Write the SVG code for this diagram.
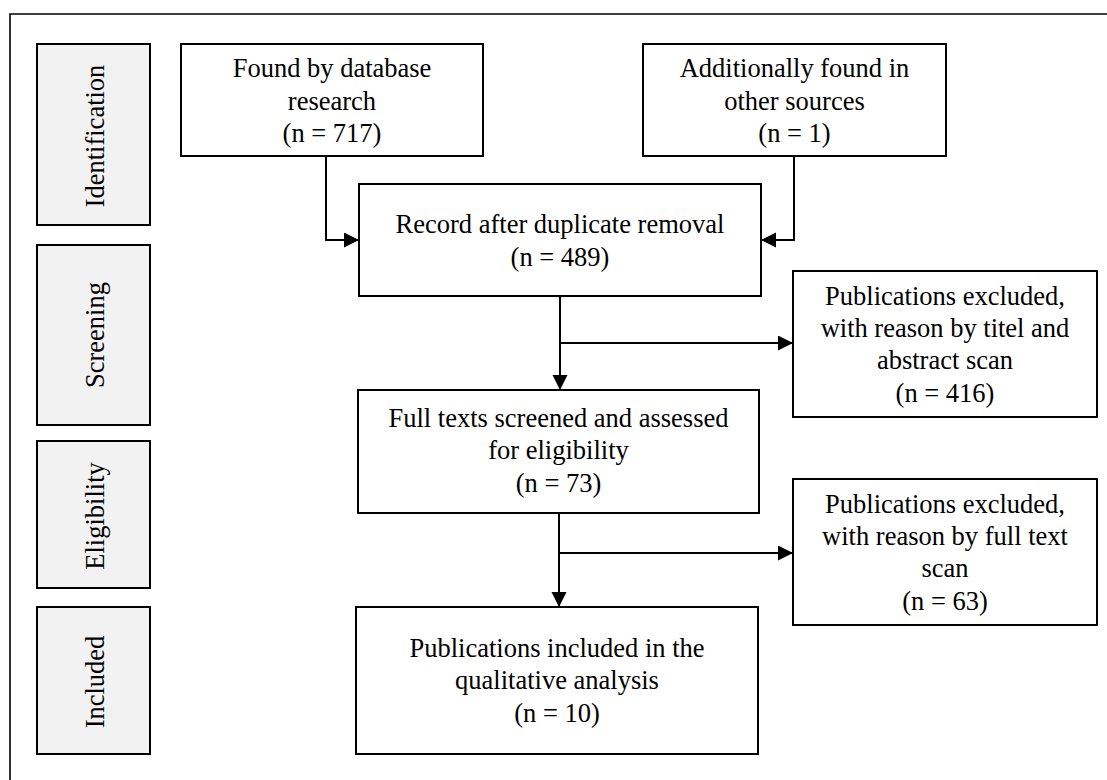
<svg xmlns="http://www.w3.org/2000/svg" width="1107" height="780" viewBox="0 0 1107 780">
<style>
.box{fill:#fff;stroke:#000;stroke-width:2}
.side{fill:#f2f2f2;stroke:#000;stroke-width:2}
.t{font-family:"Liberation Serif","Times New Roman",serif;font-size:26.5px;fill:#000;text-anchor:middle}
.c{fill:none;stroke:#000;stroke-width:2}
.frame{fill:none;stroke:#000;stroke-width:1.6}
</style>
<defs>
<marker id="ah" markerUnits="userSpaceOnUse" markerWidth="16" markerHeight="16" refX="15" refY="7.5" orient="auto">
<path d="M0,0 L15,7.5 L0,15 z" fill="#000"/>
</marker>
</defs>
<rect width="1107" height="780" fill="#fff"/>
<path class="frame" d="M10,780 V14 H1107"/>

<g id="stage-identification"><rect class="side" x="37" y="44" width="113" height="181"/><text class="t" transform="translate(104,136) rotate(-90)">Identification</text></g>
<g id="stage-screening"><rect class="side" x="37" y="245" width="113" height="180"/><text class="t" transform="translate(104,335) rotate(-90)">Screening</text></g>
<g id="stage-eligibility"><rect class="side" x="37" y="441" width="113" height="147"/><text class="t" transform="translate(104,516) rotate(-90)">Eligibility</text></g>
<g id="stage-included"><rect class="side" x="37" y="607" width="113" height="147"/><text class="t" transform="translate(104,682) rotate(-90)">Included</text></g>

<g id="found"><rect class="box" x="181" y="44" width="302" height="112"/>
<text class="t" x="332" y="77">Found by database</text><text class="t" x="332" y="109.5">research</text><text class="t" x="332" y="142">(n = 717)</text></g>
<g id="additional"><rect class="box" x="643" y="44" width="303" height="112"/>
<text class="t" x="794.5" y="77">Additionally found in</text><text class="t" x="794.5" y="109.5">other sources</text><text class="t" x="794.5" y="142">(n = 1)</text></g>
<g id="record"><rect class="box" x="359" y="184" width="402" height="112"/>
<text class="t" x="560" y="233">Record after duplicate removal</text><text class="t" x="560" y="265.5">(n = 489)</text></g>
<g id="excluded1"><rect class="box" x="793" y="271" width="304" height="146"/>
<text class="t" x="945" y="305">Publications excluded,</text><text class="t" x="945" y="337">with reason by titel and</text><text class="t" x="945" y="369">abstract scan</text><text class="t" x="945" y="401.5">(n = 416)</text></g>
<g id="fulltext"><rect class="box" x="358" y="390" width="401" height="123"/>
<text class="t" x="558.5" y="426.5">Full texts screened and assessed</text><text class="t" x="558.5" y="459">for eligibility</text><text class="t" x="558.5" y="492">(n = 73)</text></g>
<g id="excluded2"><rect class="box" x="793" y="479" width="304" height="146"/>
<text class="t" x="945" y="513">Publications excluded,</text><text class="t" x="945" y="545">with reason by full text</text><text class="t" x="945" y="577">scan</text><text class="t" x="945" y="610">(n = 63)</text></g>
<g id="included"><rect class="box" x="356" y="607" width="402" height="147"/>
<text class="t" x="557" y="657">Publications included in the</text><text class="t" x="557" y="689">qualitative analysis</text><text class="t" x="557" y="721.5">(n = 10)</text></g>

<g id="connectors">
<path class="c" d="M326,156 V240 H359" marker-end="url(#ah)"/>
<path class="c" d="M794,156 V240 H761" marker-end="url(#ah)"/>
<path class="c" d="M560,296 V390" marker-end="url(#ah)"/>
<path class="c" d="M560,343 H793" marker-end="url(#ah)"/>
<path class="c" d="M559,513 V607" marker-end="url(#ah)"/>
<path class="c" d="M559,553 H793" marker-end="url(#ah)"/>
</g>
</svg>
